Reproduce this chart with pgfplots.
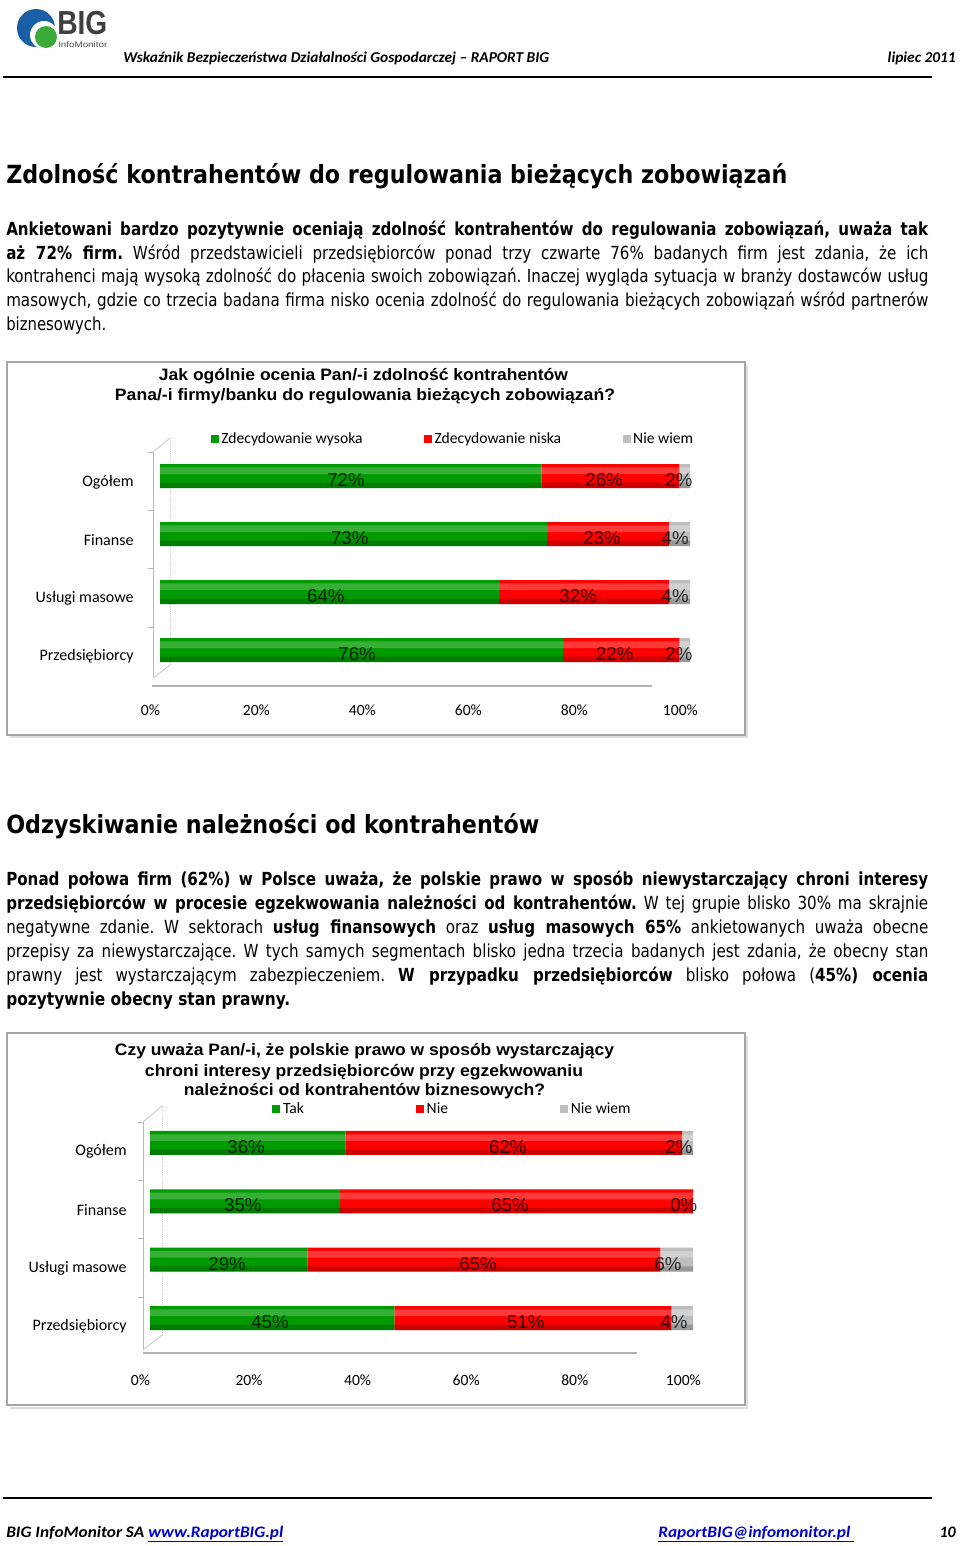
\documentclass[border=0pt]{standalone}
\usepackage{pgfplots}
\pgfplotsset{compat=1.18}
\usepackage{pgfplotstable}
\usepackage{fontspec}
\usepackage{graphicx}
\setmainfont{Carlito}
\newfontfamily\tah[FakeStretch=0.84]{DejaVu Sans}
\newfontfamily\arial{Liberation Sans}
\newfontfamily\calf{Carlito}
\definecolor{gflat}{RGB}{0,155,0}
\definecolor{rflat}{RGB}{255,0,0}
\definecolor{yflat}{RGB}{190,190,190}
\definecolor{frame}{RGB}{165,165,165}
\definecolor{linkblue}{RGB}{0,0,204}
\definecolor{logoblue}{RGB}{25,95,165}
\definecolor{logogreen}{RGB}{60,170,55}

\newlength\jW
\newsavebox\jB
\newcommand\jline[2]{\setlength\jW{#1pt}\setlength\jW{0.75\jW}\sbox\jB{#2}%
  \ifdim\wd\jB>\jW\resizebox{\jW}{\height}{\usebox\jB}\else\makebox[\jW][s]{#2}\fi}
\newcommand\fw[2]{\setlength\jW{#1pt}\setlength\jW{0.75\jW}\resizebox{\jW}{\height}{#2}}
\newcommand\bodyf{\tah\fontsize{13.5}{16}\selectfont\frenchspacing}
\newcommand\headf{\tah\bfseries\fontsize{18.75}{22}\selectfont}
\newcommand\titf{\arial\bfseries\fontsize{12.4}{14}\selectfont}

\pgfplotstableread{
y  hi  lo  nw
0  76  22  2
1  64  32  4
2  73  23  4
3  72  26  2
}\chartA
\pgfplotstableread{
x     y  v
35.1  3  72
83.8  3  26
97.9  3  2
35.8  2  73
83.4  2  23
97.2  2  4
31.3  1  64
78.9  1  32
97.2  1  4
37.2  0  76
85.8  0  22
97.9  0  2
}\labelsA
\pgfplotstableread{
y  hi  lo  nw
0  45  51  4
1  29  65  6
2  35  65  0
3  36  62  2
}\chartB
\pgfplotstableread{
x     y  v
17.7  3  36
65.9  3  62
97.4  3  2
17.1  2  35
66.3  2  65
98.3  2  0
14.2  1  29
60.4  1  65
95.4  1  6
22.1  0  45
69.2  0  51
96.5  0  4
}\labelsB

\pgfplotsset{
  base/.style={scale only axis, xmin=0, xmax=100, ymin=-0.65, ymax=3.55, clip=false},
  geomA/.style={base, width=397.5pt, height=182.7pt, at={(120pt,-515.775pt)}, anchor=south west},
  geomB/.style={base, width=407.25pt, height=183.75pt, at={(112.5pt,-1016.925pt)}, anchor=south west},
  mainbars/.style={xbar stacked, bar width=18pt,
    ytick={0,1,2,3}, yticklabels={Przedsiębiorcy,Usługi masowe,Finanse,Ogółem},
    xtick={0,20,40,60,80,100}, xticklabels={0\%,20\%,40\%,60\%,80\%,100\%},
    axis line style={draw=none}, major tick length=0pt, tick style={draw=none},
    xticklabel style={font=\calf\fontsize{11.7}{13}\selectfont, text=black, xshift=-7.2pt},
    yticklabel style={font=\calf\fontsize{12}{13}\selectfont, text=black}},
  hl/.style={hide axis, xbar stacked, bar width=5pt, bar shift=4pt},
  sh/.style={hide axis, xbar stacked, bar width=4pt, bar shift=-7pt},
  lab/.style={hide axis, legend columns=3,
    /pgf/number format/assume math mode=true,
    legend image code/.code={\fill[##1] (0pt,-3pt) rectangle (6pt,3pt);},
    every node near coord/.append style={anchor=center, yshift=-3pt,
      font=\arial\fontsize{14}{14}\selectfont, text=black, text opacity=0.78}},
}

\begin{document}
\begin{tikzpicture}
\begin{scope}[x=0.75pt,y=-0.75pt]
\path[use as bounding box, fill=white] (0,0) rectangle (960,1546);
% logo
\fill[logoblue] (36,28) circle (19);
\fill[white] (44,35) circle (14);
\fill[logogreen] (46,37) circle (11);
\node[anchor=south west, inner sep=0, text=black!75] at (57,35) {\fw{50}{\arial\bfseries\fontsize{25}{25}\selectfont BIG}};
\node[anchor=base west, inner sep=0, text=black!70] at (58,47.5) {\fw{49}{\arial\fontsize{6}{6}\selectfont InfoMonitor}};
% header
\node[anchor=base west, inner sep=0] at (123,62) {\fw{426}{\calf\bfseries\itshape\fontsize{11.3}{13}\selectfont Wskaźnik Bezpieczeństwa Działalności Gospodarczej – RAPORT BIG}};
\node[anchor=base east, inner sep=0] at (956,62) {\fw{68}{\calf\bfseries\itshape\fontsize{11.3}{13}\selectfont lipiec 2011}};
\draw[line width=1.1pt] (3,77)--(932,77);
% heading 1
\node[anchor=base west, inner sep=0] at (6,183) {\fw{781}{\headf Zdolność kontrahentów do regulowania bieżących zobowiązań}};
% paragraph 1
\node[anchor=base west, inner sep=0] at (6,235) {\bodyf\jline{922}{\textbf{Ankietowani bardzo pozytywnie oceniają zdolność kontrahentów do regulowania zobowiązań, uważa tak}}};
\node[anchor=base west, inner sep=0] at (6,259) {\bodyf\jline{922}{\textbf{aż 72\% firm.} Wśród przedstawicieli przedsiębiorców ponad trzy czwarte 76\% badanych firm jest zdania, że ich}};
\node[anchor=base west, inner sep=0] at (6,282) {\bodyf\jline{922}{kontrahenci mają wysoką zdolność do płacenia swoich zobowiązań. Inaczej wygląda sytuacja w branży dostawców usług}};
\node[anchor=base west, inner sep=0] at (6,306) {\bodyf\jline{922}{masowych, gdzie co trzecia badana firma nisko ocenia zdolność do regulowania bieżących zobowiązań wśród partnerów}};
\node[anchor=base west, inner sep=0] at (6,330) {\bodyf\fw{100}{biznesowych.}};
% chart 1 frame and title
\draw[gray!25, line width=1.5pt] (10,737)--(747,737)--(747,365);
\draw[frame, line width=1.1pt] (7,362) rectangle (745,735);
\node[anchor=base, inner sep=0] at (363.5,380) {\fw{409}{\titf Jak ogólnie ocenia Pan/-i zdolność kontrahentów}};
\node[anchor=base, inner sep=0] at (365,400) {\fw{500}{\titf Pana/-i firmy/banku do regulowania bieżących zobowiązań?}};
% chart 1 3D walls
\draw[gray!55, line width=0.6pt] (153,452)--(153,678);
\foreach \yy in {452,510,568,627} {\draw[gray!55, line width=0.6pt] (148,\yy)--(153,\yy);}
\draw[gray!45, line width=0.6pt] (153,452)--(170,438) (153,678)--(170,665);
\draw[gray!40, densely dotted, line width=0.6pt] (170,438)--(170,665);
\draw[gray!60, line width=0.8pt] (152,686)--(652,686);
% heading 2
\node[anchor=base west, inner sep=0] at (6,833) {\fw{533}{\headf Odzyskiwanie należności od kontrahentów}};
% paragraph 2
\node[anchor=base west, inner sep=0] at (6,885) {\bodyf\jline{922}{\textbf{Ponad połowa firm (62\%) w Polsce uważa, że polskie prawo w sposób niewystarczający chroni interesy}}};
\node[anchor=base west, inner sep=0] at (6,909) {\bodyf\jline{922}{\textbf{przedsiębiorców w procesie egzekwowania należności od kontrahentów.} W tej grupie blisko 30\% ma skrajnie}};
\node[anchor=base west, inner sep=0] at (6,933) {\bodyf\jline{922}{negatywne zdanie. W sektorach \textbf{usług finansowych} oraz \textbf{usług masowych 65\%} ankietowanych uważa obecne}};
\node[anchor=base west, inner sep=0] at (6,957) {\bodyf\jline{922}{przepisy za niewystarczające. W tych samych segmentach blisko jedna trzecia badanych jest zdania, że obecny stan}};
\node[anchor=base west, inner sep=0] at (6,981) {\bodyf\jline{922}{prawny jest wystarczającym zabezpieczeniem. \textbf{W przypadku przedsiębiorców} blisko połowa (\textbf{45\%) ocenia}}};
\node[anchor=base west, inner sep=0] at (6,1005) {\bodyf\fw{284}{\textbf{pozytywnie obecny stan prawny.}}};
% chart 2 frame and title
\draw[gray!25, line width=1.5pt] (10,1408)--(747,1408)--(747,1036);
\draw[frame, line width=1.1pt] (7,1033) rectangle (745,1405);
\node[anchor=base, inner sep=0] at (364.5,1055) {\fw{499}{\titf Czy uważa Pan/-i, że polskie prawo w sposób wystarczający}};
\node[anchor=base, inner sep=0] at (364,1076) {\fw{438}{\titf chroni interesy przedsiębiorców przy egzekwowaniu}};
\node[anchor=base, inner sep=0] at (364.5,1095) {\fw{361}{\titf należności od kontrahentów biznesowych?}};
% chart 2 3D walls
\draw[gray!55, line width=0.6pt] (143,1122)--(143,1350);
\foreach \yy in {1122,1180,1238,1297} {\draw[gray!55, line width=0.6pt] (138,\yy)--(143,\yy);}
\draw[gray!45, line width=0.6pt] (143,1122)--(162,1106) (143,1350)--(162,1335);
\draw[gray!40, densely dotted, line width=0.6pt] (162,1106)--(162,1335);
\draw[gray!60, line width=0.8pt] (143,1353)--(637,1353);
% footer
\draw[line width=1.1pt] (3,1498)--(932,1498);
\node[anchor=base west, inner sep=0] at (6,1537) {\fw{277}{\calf\bfseries\itshape\fontsize{12}{14}\selectfont BIG InfoMonitor SA \textcolor{linkblue}{\underline{www.RaportBIG.pl}}}};
\node[anchor=base west, inner sep=0] at (658,1537) {\fw{196}{\calf\bfseries\itshape\fontsize{12}{14}\selectfont\textcolor{linkblue}{\underline{RaportBIG@infomonitor.pl\ }}}};
\node[anchor=base east, inner sep=0] at (956,1537) {\calf\bfseries\itshape\fontsize{12}{14}\selectfont 10};
\end{scope}

% ---------------- chart 1 ----------------
\begin{axis}[geomA, mainbars,
  xticklabel style={yshift=-9pt},
  yticklabel style={xshift=-16.3pt, yshift=-4.5pt}]
\addplot[fill=gflat, draw=none] table[x=hi, y=y]{\chartA};
\addplot[fill=rflat, draw=none] table[x=lo, y=y]{\chartA};
\addplot[fill=yflat, draw=none] table[x=nw, y=y]{\chartA};
\end{axis}
\begin{axis}[geomA, hl]
\addplot[fill=white, fill opacity=0.22, draw=none] table[x=hi, y=y]{\chartA};
\addplot[fill=white, fill opacity=0.22, draw=none] table[x=lo, y=y]{\chartA};
\addplot[fill=white, fill opacity=0.3, draw=none] table[x=nw, y=y]{\chartA};
\end{axis}
\begin{axis}[geomA, sh]
\addplot[fill=black, fill opacity=0.2, draw=none] table[x=hi, y=y]{\chartA};
\addplot[fill=black, fill opacity=0.2, draw=none] table[x=lo, y=y]{\chartA};
\addplot[fill=black, fill opacity=0.2, draw=none] table[x=nw, y=y]{\chartA};
\end{axis}
\begin{axis}[geomA, lab,
  legend style={draw=none, fill=none, inner sep=0pt, at={(0.095,1.021)}, anchor=west,
    font=\calf\fontsize{11.7}{13}\selectfont,
    /tikz/every even column/.append style={column sep=44pt}}]
\addlegendimage{fill=gflat, draw=none}
\addlegendimage{fill=rflat, draw=none}
\addlegendimage{fill=yflat, draw=none}
\legend{Zdecydowanie wysoka, Zdecydowanie niska, Nie wiem}
\addplot[draw=none, no markers, nodes near coords={\pgfmathprintnumber{\pgfplotspointmeta}\%}, point meta=\thisrow{v}] table[x=x, y=y]{\labelsA};
\end{axis}

% ---------------- chart 2 ----------------
\begin{axis}[geomB, mainbars,
  xticklabel style={yshift=-10.5pt},
  yticklabel style={xshift=-14pt, yshift=-6.5pt}]
\addplot[fill=gflat, draw=none] table[x=hi, y=y]{\chartB};
\addplot[fill=rflat, draw=none] table[x=lo, y=y]{\chartB};
\addplot[fill=yflat, draw=none] table[x=nw, y=y]{\chartB};
\end{axis}
\begin{axis}[geomB, hl]
\addplot[fill=white, fill opacity=0.22, draw=none] table[x=hi, y=y]{\chartB};
\addplot[fill=white, fill opacity=0.22, draw=none] table[x=lo, y=y]{\chartB};
\addplot[fill=white, fill opacity=0.3, draw=none] table[x=nw, y=y]{\chartB};
\end{axis}
\begin{axis}[geomB, sh]
\addplot[fill=black, fill opacity=0.2, draw=none] table[x=hi, y=y]{\chartB};
\addplot[fill=black, fill opacity=0.2, draw=none] table[x=lo, y=y]{\chartB};
\addplot[fill=black, fill opacity=0.2, draw=none] table[x=nw, y=y]{\chartB};
\end{axis}
\begin{axis}[geomB, lab,
  legend style={draw=none, fill=none, inner sep=0pt, at={(0.225,1.008)}, anchor=west,
    font=\calf\fontsize{11.7}{13}\selectfont,
    /tikz/every even column/.append style={column sep=82pt}}]
\addlegendimage{fill=gflat, draw=none}
\addlegendimage{fill=rflat, draw=none}
\addlegendimage{fill=yflat, draw=none}
\legend{Tak, Nie, Nie wiem}
\addplot[draw=none, no markers, nodes near coords={\pgfmathprintnumber{\pgfplotspointmeta}\%}, point meta=\thisrow{v}] table[x=x, y=y]{\labelsB};
\end{axis}
\end{tikzpicture}
\end{document}
